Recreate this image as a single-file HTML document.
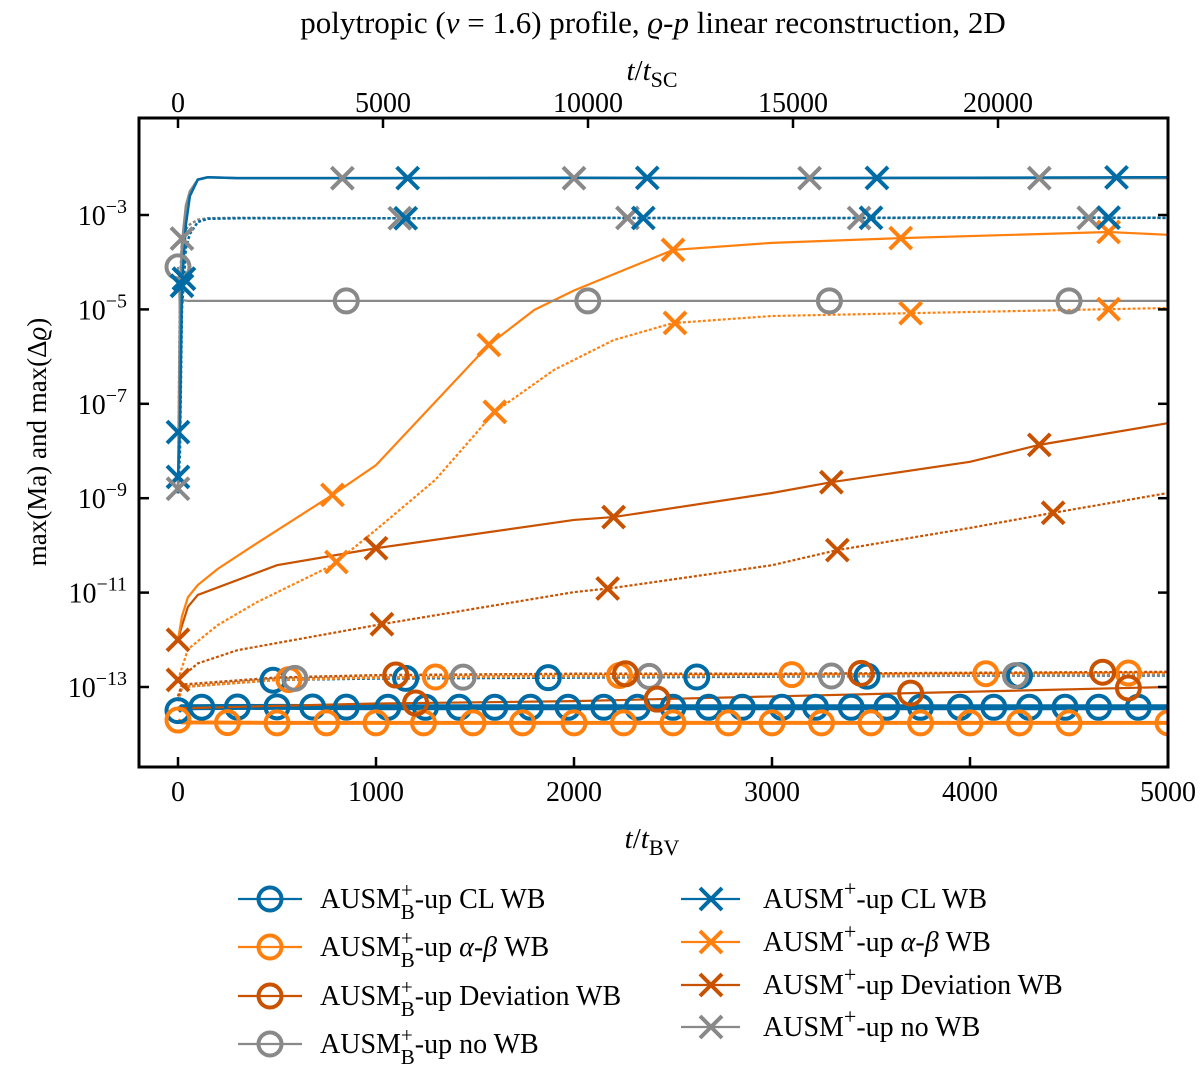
<!DOCTYPE html>
<html><head><meta charset="utf-8"><style>
body{margin:0;background:#fff}
svg text{font-family:"Liberation Serif",serif;fill:#000}
</style></head><body>
<svg id="chart" width="1200" height="1069" xmlns="http://www.w3.org/2000/svg">
<g id="plot"></g>
<g id="axes"></g>
<g id="legend"></g>
</svg>
<script>
// ---- data (times in t/t_BV, values as log10) ----
const blueTimes = [0,10,20,40,60,100,150,300,1000,2000,3000,4000,5000];
const blueSolid = [-8.6,-7.5,-4.5,-3.2,-2.6,-2.25,-2.2,-2.22,-2.22,-2.21,-2.22,-2.21,-2.2];
const blueDotted = [-8.9,-8,-5,-3.7,-3.4,-3.15,-3.08,-3.07,-3.07,-3.06,-3.07,-3.05,-3.06];
const grayXSolid = [-8.8,-5,-3.6,-2.8,-2.5,-2.25,-2.2,-2.22,-2.22,-2.22,-2.22,-2.22,-2.22];
const grayXDotted = [-8.9,-4.5,-3.5,-3.3,-3.2,-3.1,-3.07,-3.06,-3.07,-3.06,-3.07,-3.06,-3.06];
const grayOTimes = [0,5,10,20,50,100,5000];
const grayOValues = [-4.1,-4.3,-5.2,-4.8,-4.82,-4.82,-4.82];
const orTimes = [0,20,50,100,200,400,780,1000,1570,1800,2000,2500,3000,3650,4700,5000];
const orangeXSolid = [-12.0,-11.5,-11.1,-10.84,-10.5,-9.95,-8.93,-8.3,-5.75,-5.01,-4.6,-3.74,-3.59,-3.49,-3.36,-3.42];
const orTimes2 = [0,50,200,400,780,1000,1300,1600,1900,2200,2500,3000,3700,5000];
const orangeXDotted = [-12.85,-12.2,-11.69,-11.2,-10.42,-9.67,-8.61,-7.17,-6.28,-5.65,-5.29,-5.14,-5.08,-4.97];
const dkTimes = [0,20,50,100,500,1000,2000,2200,3000,3300,4000,4350,5000];
const devXSolid = [-12.0,-11.7,-11.3,-11.05,-10.42,-10.06,-9.46,-9.4,-8.89,-8.66,-8.23,-7.87,-7.41];
const dkTimes2 = [0,100,300,1000,2000,2200,3000,3330,4000,4420,5000];
const devXDotted = [-12.85,-12.5,-12.22,-11.69,-10.99,-10.9,-10.42,-10.1,-9.63,-9.31,-8.89];
const lowTimes = [0,20,500,1000,2000,3000,4000,5000];
const blueOSolid = [-13.5,-13.43,-13.42,-13.43,-13.43,-13.43,-13.43,-13.43];
const orangeOSolid = [-13.7,-13.75,-13.76,-13.76,-13.76,-13.76,-13.76,-13.76];
const devOSolid = [-13.5,-13.45,-13.4,-13.35,-13.3,-13.2,-13.1,-13.0];
const blueODotted = [-13.3,-13.0,-12.85,-12.82,-12.8,-12.78,-12.76,-12.76];
const orangeODotted = [-13.3,-13.0,-12.85,-12.8,-12.76,-12.74,-12.72,-12.7];
const devODotted = [-13.2,-12.95,-12.8,-12.75,-12.72,-12.72,-12.7,-12.68];
const grayODotted = [-13.3,-13.0,-12.82,-12.8,-12.78,-12.77,-12.76,-12.75];
// marker times
const mkBlueXS = [20,1160,2370,3530,4740];
const mkBlueXD = [30,1150,2350,3500,4700];
const mkGrayXS = [830,2000,3190,4350];
const mkGrayXD = [20,1120,2270,3440,4600];
const mkGrayO = [850,2070,3290,4500];
const mkOrXS = [780,1570,2500,3650,4700];
const mkOrXD = [800,1600,2510,3700,4700];
const mkDvXS = [0,1000,2200,3300,4350];
const mkDvXD = [1030,2170,3330,4420];
const mkBlueO = [0,120,300,500,680,850,1060,1250,1420,1600,1780,1970,2150,2320,2500,2680,2850,3050,3220,3400,3580,3750,3950,4120,4300,4480,4650,4850];
const mkOrO = [0,250,500,750,1000,1240,1490,1740,2000,2250,2500,2780,3000,3250,3500,3750,4000,4250,4500,5000];
const mkBlueOD = [480,1150,1870,2620,3480,4250];
const mkOrOD = [560,1300,2230,3100,4080,4800];
const mkDvOD = [1100,2260,3450,4670];
const mkDvOS = [1200,2420,3700,4800];
const mkGrayOD = [590,1440,2380,3300,4230];
const xTicks = [0,1000,2000,3000,4000,5000];
const xTopTicks = [0,5000,10000,15000,20000];
const yTicks = [-3,-5,-7,-9,-11,-13];

const C = {blue:'#006BA4',orange:'#FF800E',dev:'#C85200',gray:'#898989'};
const L=139,R=1168,T=118,B=767;
const xs = t => 178 + t*0.198;
const xsTop = t => 178 + t*0.041;
const ys = v => 215 + (-3 - v)*47.2;
const NS='http://www.w3.org/2000/svg';
function mk(tag,attrs,parent){const e=document.createElementNS(NS,tag);for(const k in attrs)e.setAttribute(k,attrs[k]);parent.appendChild(e);return e;}
const plot=document.getElementById('plot'), axes=document.getElementById('axes'), leg=document.getElementById('legend');
const cp=mk('clipPath',{id:'cp'},plot);mk('rect',{x:L,y:T,width:R-L,height:B-T},cp);
const g=mk('g',{'clip-path':'url(#cp)'},plot);
function interp(ts,vs,t){for(let i=1;i<ts.length;i++){if(t<=ts[i]){const f=(t-ts[i-1])/(ts[i]-ts[i-1]);return vs[i-1]+f*(vs[i]-vs[i-1]);}}return vs[vs.length-1];}
function line(ts,vs,color,dotted,name,w){
  const p=mk('polyline',{points:ts.map((t,i)=>xs(t)+','+ys(vs[i])).join(' '),fill:'none',stroke:color,'stroke-width':w||2.2,'stroke-dasharray':dotted?'3,2':'none'},g);
  
  
}
function marker(type,cx,cy,color,parent,name){
  let e;
  if(type==='o'){e=mk('circle',{cx:cx,cy:cy,r:11.5,fill:'none',stroke:color,'stroke-width':4},parent);}
  else{const s=11;e=mk('path',{d:`M${cx-s},${cy-s}L${cx+s},${cy+s}M${cx-s},${cy+s}L${cx+s},${cy-s}`,stroke:color,'stroke-width':4,fill:'none'},parent);}
  
  
}
function markers(mts,ts,vs,type,color,name){mts.forEach(t=>marker(type,xs(t),ys(interp(ts,vs,t)),color,g,name));}

line(lowTimes,blueODotted,C.blue,true,'blue-o-dotted-line',2.5);
line(lowTimes,grayODotted,C.gray,true,'gray-o-dotted-line',2.5);
line(lowTimes,orangeODotted,C.orange,true,'orange-o-dotted-line',2.5);
line(lowTimes,devODotted,C.dev,true,'dev-o-dotted-line',2.5);
line(lowTimes,blueOSolid,C.blue,false,'blue-o-line',6);
line(lowTimes,orangeOSolid,C.orange,false,'orange-o-line',4);
line(lowTimes,devOSolid,C.dev,false,'dev-o-line');
line(dkTimes2,devXDotted,C.dev,true,'dev-x-dotted-line');
line(dkTimes,devXSolid,C.dev,false,'dev-x-line');
line(orTimes2,orangeXDotted,C.orange,true,'orange-x-dotted-line');
line(orTimes,orangeXSolid,C.orange,false,'orange-x-line');
line(grayOTimes,grayOValues,C.gray,false,'gray-o-line');
line(blueTimes,grayXDotted,C.gray,true,'gray-x-dotted-line',2.5);
line(blueTimes,blueDotted,C.blue,true,'blue-x-dotted-line',2.5);
line(blueTimes,grayXSolid,C.gray,false,'gray-x-line',2.5);
line(blueTimes,blueSolid,C.blue,false,'blue-x-line',2.5);

markers(mkBlueO,lowTimes,blueOSolid,'o',C.blue,'blue-o-marker');
markers(mkOrO,lowTimes,orangeOSolid,'o',C.orange,'orange-o-marker');
markers(mkBlueOD,lowTimes,blueODotted,'o',C.blue,'blue-o-dotted-marker');
markers(mkOrOD,lowTimes,orangeODotted,'o',C.orange,'orange-o-dotted-marker');
markers(mkGrayOD,lowTimes,grayODotted,'o',C.gray,'gray-o-dotted-marker');
markers(mkDvOD,lowTimes,devODotted,'o',C.dev,'dev-o-dotted-marker');
markers(mkDvOS,lowTimes,devOSolid,'o',C.dev,'dev-o-marker');
markers(mkDvXD,dkTimes2,devXDotted,'x',C.dev,'dev-x-dotted-marker');
markers(mkDvXS,dkTimes,devXSolid,'x',C.dev,'dev-x-marker');
markers(mkOrXD,orTimes2,orangeXDotted,'x',C.orange,'orange-x-dotted-marker');
markers(mkOrXS,orTimes,orangeXSolid,'x',C.orange,'orange-x-marker');
markers(mkGrayO,grayOTimes,grayOValues,'o',C.gray,'gray-o-marker');
marker('o',xs(0),ys(-4.1),C.gray,g,'gray-o-marker');
markers(mkGrayXS,blueTimes,grayXSolid,'x',C.gray,'gray-x-marker');
markers(mkGrayXD,blueTimes,grayXDotted,'x',C.gray,'gray-x-dotted-marker');
markers(mkBlueXD,blueTimes,blueDotted,'x',C.blue,'blue-x-dotted-marker');
markers(mkBlueXS,blueTimes,blueSolid,'x',C.blue,'blue-x-marker');
[[-7.6,C.blue],[-8.55,C.blue],[-8.8,C.gray]].forEach(a=>marker('x',xs(0),ys(a[0]),a[1],g,'early-x-marker'));
marker('x',xs(0),ys(-12.85),C.dev,g,'dev-x-marker');

// axes
mk('rect',{x:L,y:T,width:R-L,height:B-T,fill:'none',stroke:'#000','stroke-width':3},axes);
function txt(x,y,s,anchor,size,name,parent){const t=mk('text',{x:x,y:y,'text-anchor':anchor,'font-size':size},parent||axes);t.innerHTML=s;return t;}
xTicks.forEach(v=>{const x=xs(v);mk('line',{x1:x,x2:x,y1:B,y2:B-10,stroke:'#000','stroke-width':2.5},axes);txt(x,801,v,'middle',28,'x-tick-label');});
xTopTicks.forEach(v=>{const x=xsTop(v);mk('line',{x1:x,x2:x,y1:T,y2:T+10,stroke:'#000','stroke-width':2.5},axes);txt(x,112,v,'middle',28,'x-top-tick-label');});
yTicks.forEach(v=>{const y=ys(v);mk('line',{x1:L,x2:L+10,y1:y,y2:y,stroke:'#000','stroke-width':2.5},axes);mk('line',{x1:R,x2:R-10,y1:y,y2:y,stroke:'#000','stroke-width':2.5},axes);
 txt(127,y+10,'10<tspan dy="-12" font-size="20">\u2212'+(-v)+'</tspan>','end',28,'y-tick-label');});
txt(653,33,'polytropic (<tspan font-style="italic">ν</tspan> = 1.6) profile, <tspan font-style="italic">ϱ</tspan>-<tspan font-style="italic">p</tspan> linear reconstruction, 2D','middle',31,'chart-title');
txt(652,80,'<tspan font-style="italic">t</tspan>/<tspan font-style="italic">t</tspan><tspan dy="7" font-size="22">SC</tspan>','middle',29,'x-top-axis-title');
txt(652,848,'<tspan font-style="italic">t</tspan>/<tspan font-style="italic">t</tspan><tspan dy="7" font-size="22">BV</tspan>','middle',29,'x-axis-title');
const yt=txt(0,0,'max(Ma) and max(Δ<tspan font-style="italic">ϱ</tspan>)','middle',27,'y-axis-title');yt.setAttribute('transform','translate(46,442) rotate(-90)');

// legend
const sub='<tspan dy="-11" font-size="21">+</tspan><tspan dx="-12" dy="22" font-size="21">B</tspan><tspan dy="-11">';
const sup='<tspan dy="-12" font-size="22">+</tspan><tspan dy="12">';
const legLeft=[['AUSM'+sub+'-up CL WB</tspan>',C.blue,'o',899],
 ['AUSM'+sub+'-up <tspan font-style="italic">α</tspan>-<tspan font-style="italic">β</tspan> WB</tspan>',C.orange,'o',947],
 ['AUSM'+sub+'-up Deviation WB</tspan>',C.dev,'o',996],
 ['AUSM'+sub+'-up no WB</tspan>',C.gray,'o',1044]];
const legRight=[['AUSM'+sup+'-up CL WB</tspan>',C.blue,'x',899],
 ['AUSM'+sup+'-up <tspan font-style="italic">α</tspan>-<tspan font-style="italic">β</tspan> WB</tspan>',C.orange,'x',942],
 ['AUSM'+sup+'-up Deviation WB</tspan>',C.dev,'x',985],
 ['AUSM'+sup+'-up no WB</tspan>',C.gray,'x',1027]];
legLeft.forEach(e=>{mk('line',{x1:238,x2:302,y1:e[3],y2:e[3],stroke:e[1],'stroke-width':2.2},leg);marker(e[2],270,e[3],e[1],leg,'legend-marker');txt(320,e[3]+9,e[0],'start',28,'legend-entry',leg);});
legRight.forEach(e=>{mk('line',{x1:681,x2:740,y1:e[3],y2:e[3],stroke:e[1],'stroke-width':2.2},leg);marker(e[2],711,e[3],e[1],leg,'legend-marker');txt(763,e[3]+9,e[0],'start',28,'legend-entry',leg);});
</script>
</body></html>
